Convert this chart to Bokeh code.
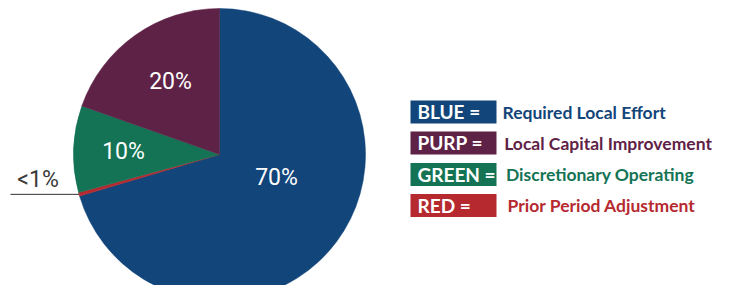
import numpy as np
from bokeh.plotting import figure
from bokeh.models import ColumnDataSource
from bokeh.core.properties import value
from bokeh.embed import file_html
from bokeh.resources import INLINE

# Data (clockwise from 12 o'clock)
codes = ["BLUE =", "RED =", "GREEN =", "PURP ="]
categories = ["Required Local Effort", "Prior Period Adjustment",
              "Discretionary Operating", "Local Capital Improvement"]
shares = [70.4, 0.4, 9.6, 19.6]
pct_labels = ["70%", "<1%", "10%", "20%"]
colors = ["#12457A", "#B5292F", "#137354", "#5F2247"]

# legend order (top to bottom)
legend_order = [0, 3, 2, 1]

W, H = 720, 285
p = figure(width=W, height=H, x_range=(0, W), y_range=(0, H),
           output_backend="svg", toolbar_location=None, min_border=0)
p.axis.visible = False
p.grid.visible = False
p.outline_line_color = None
p.background_fill_color = "white"

def Y(img_y):
    return H - img_y

cx, cy, R = 219, Y(154), 146
vals = np.array(shares, dtype=float)
frac = vals / vals.sum()
cum = np.cumsum(frac)
start_cw = np.concatenate([[0.0], cum[:-1]])
a_start = np.radians(90 - cum * 360)
a_end = np.radians(90 - start_cw * 360)
src = ColumnDataSource(dict(s=a_start, e=a_end, c=colors))
p.wedge(x=cx, y=cy, radius=R, start_angle="s", end_angle="e",
        fill_color="c", line_color="c", line_width=0.5, source=src)

LBL_FONT = value("Roboto")
# percent label positions (screen px)
label_pos = {0: (276, 177), 2: (123, 151), 3: (170, 81)}
for i, (lx, ly) in label_pos.items():
    p.text(x=[lx], y=[Y(ly)], text=[pct_labels[i]], text_color="white",
           text_font=LBL_FONT, text_font_size="23px",
           text_align="center", text_baseline="middle")

# small slice callout
mid = (a_start + a_end) / 2
ex = cx + R * np.cos(mid[1])
ey = cy + R * np.sin(mid[1])
p.line(x=[10, ex], y=[ey, ey], line_color="#333333", line_width=1)
p.text(x=[37.5], y=[Y(179)], text=[pct_labels[1]], text_color="#3a3a3a",
       text_font=LBL_FONT, text_font_size="23px",
       text_align="center", text_baseline="middle")

# legend
bx0, bw, bh = 410, 86, 23
ys = [Y(111.5), Y(142.5), Y(174), Y(205)]
for row, i in enumerate(legend_order):
    y = ys[row]
    p.rect(x=[bx0 + bw / 2], y=[y], width=bw, height=bh,
           fill_color=colors[i], line_color=None)
    p.text(x=[bx0 + 7], y=[y + 0.5], text=[codes[i]], text_color="white",
           text_font=value("Lato"), text_font_style="bold",
           text_font_size="19px", text_align="left", text_baseline="middle")
    p.text(x=[bx0 + bw + 6 + row * 1.7], y=[y], text=[categories[i]],
           text_color=colors[i], text_font=value("Lato"),
           text_font_style="bold", text_font_size="17.5px",
           text_align="left", text_baseline="middle")

open("out.html", "w").write(file_html(p, INLINE))
